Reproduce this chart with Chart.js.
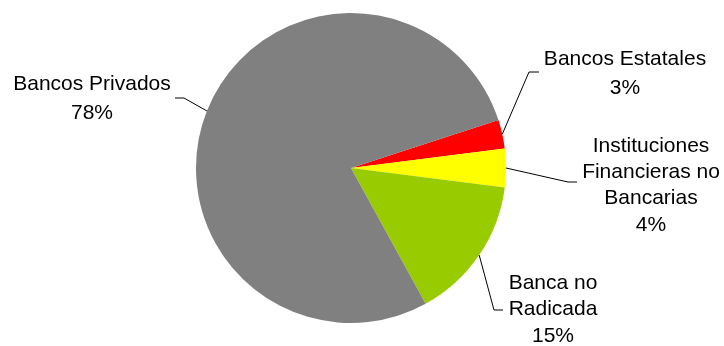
<!DOCTYPE html>
<html>
<head>
<meta charset="utf-8">
<script src="https://cdn.jsdelivr.net/npm/chart.js@4/dist/chart.umd.min.js"></script>
<style>
  html, body { margin: 0; padding: 0; background: #ffffff; }
  #wrap { width: 724px; height: 346px; position: relative; }
</style>
</head>
<body>
<div id="wrap"><canvas id="pie" width="724" height="346"></canvas></div>
<script>
// Segment names (one entry per text line) and their shares in percent
const categories = [
  ['Bancos Estatales'],
  ['Instituciones', 'Financieras no', 'Bancarias'],
  ['Banca no', 'Radicada'],
  ['Bancos Privados']
];
const shares = [3, 4, 15, 78];
const sliceColors = ['#FF0000', '#FFFF00', '#99CC00', '#808080'];

// Where each callout sits: leader elbow, leader end, text centre and line pitch
const callouts = [
  { elbow: [529, 72],  end: [539, 72],  textX: 625, textY: 59,  pitch: 29 },
  { elbow: [568, 182], end: [577, 182], textX: 651, textY: 146, pitch: 26.3 },
  { elbow: [494, 310], end: [503, 310], textX: 553, textY: 283, pitch: 26.5 },
  { elbow: [184, 98],  end: [175, 98],  textX: 92,  textY: 84,  pitch: 29 }
];

const calloutPlugin = {
  id: 'callouts',
  afterDatasetsDraw(chart) {
    const ctx = chart.ctx;
    const arcs = chart.getDatasetMeta(0).data;
    ctx.save();
    arcs.forEach((arc, i) => {
      const p = arc.getProps(['x', 'y', 'startAngle', 'endAngle', 'outerRadius'], true);
      const mid = (p.startAngle + p.endAngle) / 2;
      const sx = p.x + Math.cos(mid) * p.outerRadius;
      const sy = p.y + Math.sin(mid) * p.outerRadius;
      const c = callouts[i];
      ctx.strokeStyle = '#000000';
      ctx.lineWidth = 1;
      ctx.beginPath();
      ctx.moveTo(sx, sy);
      ctx.lineTo(c.elbow[0], c.elbow[1]);
      ctx.lineTo(c.end[0], c.end[1]);
      ctx.stroke();

      const lines = categories[i].concat([shares[i] + '%']);
      ctx.fillStyle = '#000000';
      ctx.font = '21px "Liberation Sans", Arial, sans-serif';
      ctx.textAlign = 'center';
      ctx.textBaseline = 'middle';
      lines.forEach((t, k) => ctx.fillText(t, c.textX, c.textY + k * c.pitch));
    });
    ctx.restore();
  }
};

new Chart(document.getElementById('pie'), {
  type: 'pie',
  data: {
    labels: categories.map(l => l.join(' ')),
    datasets: [{
      data: shares,
      backgroundColor: sliceColors,
      borderWidth: 0
    }]
  },
  options: {
    responsive: false,
    animation: false,
    rotation: 72,
    layout: { padding: { left: 196, right: 218, top: 13, bottom: 23 } },
    plugins: {
      legend: { display: false },
      tooltip: { enabled: false }
    }
  },
  plugins: [calloutPlugin]
});
</script>
</body>
</html>
